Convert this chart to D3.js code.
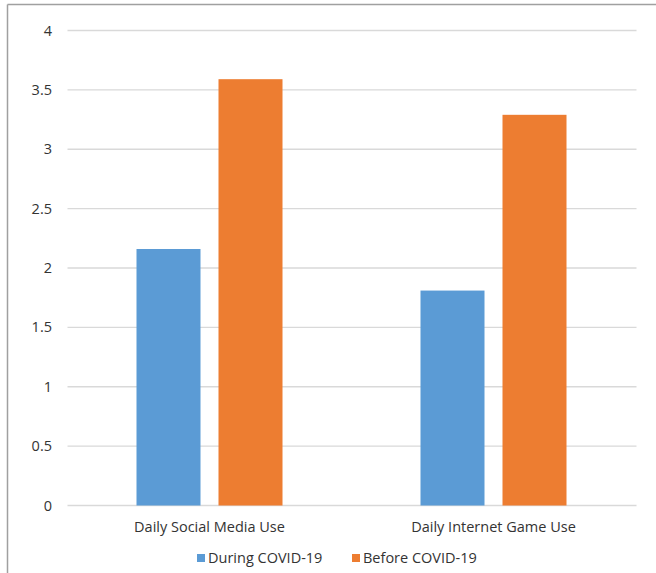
<!DOCTYPE html>
<html>
<head>
<meta charset="utf-8">
<script src="https://cdn.jsdelivr.net/npm/d3@7"></script>
<style>
  body { margin: 0; background: #fff; }
  svg { display: block; font-family: "Open Sans", "Noto Sans", sans-serif; }
</style>
</head>
<body>
<div class="content"></div>
<script>
var categories = ["Daily Social Media Use", "Daily Internet Game Use"];
var seriesNames = ["During COVID-19", "Before COVID-19"];
var duringValues = [2.16, 1.81];
var beforeValues = [3.59, 3.29];
var yTicks = [0, 0.5, 1, 1.5, 2, 2.5, 3, 3.5, 4];
var colors = ["#5b9bd5", "#ed7d31"];

var width = 656, height = 573;
var svg = d3.select(".content").append("svg")
   .attr("width", width)
   .attr("height", height);

// frame (only top and left edges show in the reference)
svg.append("line").attr("x1", 7.5).attr("x2", width).attr("y1", 4.5).attr("y2", 4.5)
   .attr("stroke", "#a0a0a0").attr("stroke-width", 1.5);
svg.append("line").attr("x1", 7.5).attr("x2", 7.5).attr("y1", 4.5).attr("y2", height)
   .attr("stroke", "#a0a0a0").attr("stroke-width", 1.5);

var x0 = d3.scaleBand().domain(categories).range([67.5, 635.5]);
var x1 = d3.scaleBand().domain(seriesNames).range([0, x0.bandwidth()])
   .paddingInner(0.2195).paddingOuter(0.8415);
var y = d3.scaleLinear().domain([0, 4]).range([505.5, 30.5]);

// gridlines
svg.append("g").selectAll("line")
   .data(yTicks)
   .enter().append("line")
   .attr("x1", 67.5).attr("x2", 636.5)
   .attr("y1", d => y(d)).attr("y2", d => y(d))
   .attr("stroke", "#d9d9d9").attr("stroke-width", 1.3);

// y tick labels
svg.append("g").selectAll("text")
   .data(yTicks)
   .enter().append("text")
   .attr("x", 52)
   .attr("y", d => y(d))
   .attr("dy", "0.35em")
   .attr("text-anchor", "end")
   .attr("font-size", "14.5px")
   .attr("fill", "#333")
   .text(d => d);

var table = categories.map(function(c, i) {
   return { category: c, values: [duringValues[i], beforeValues[i]] };
});

var groups = svg.append("g").selectAll("g")
   .data(table)
   .enter().append("g")
   .attr("transform", d => "translate(" + x0(d.category) + ",0)");

groups.selectAll("rect")
   .data(d => d.values.map((v, j) => ({ name: seriesNames[j], value: v, j: j })))
   .enter().append("rect")
   .attr("x", d => x1(d.name))
   .attr("width", x1.bandwidth())
   .attr("y", d => y(d.value))
   .attr("height", d => y(0) - y(d.value))
   .attr("fill", d => colors[d.j]);

// category labels
svg.append("g").selectAll("text")
   .data(categories)
   .enter().append("text")
   .attr("x", d => x0(d) + x0.bandwidth() / 2)
   .attr("y", 532)
   .attr("text-anchor", "middle")
   .attr("font-size", "14.5px")
   .attr("fill", "#333")
   .text(d => d);

// legend
var legendX = [197, 352];
var legend = svg.append("g").selectAll("g")
   .data(seriesNames)
   .enter().append("g")
   .attr("transform", (d, i) => "translate(" + legendX[i] + ",554)");

legend.append("rect")
   .attr("width", 8).attr("height", 8)
   .attr("fill", (d, i) => colors[i]);

legend.append("text")
   .attr("x", 11).attr("y", 9)
   .attr("font-size", "14.5px")
   .attr("fill", "#333")
   .text(d => d);
</script>
</body>
</html>
